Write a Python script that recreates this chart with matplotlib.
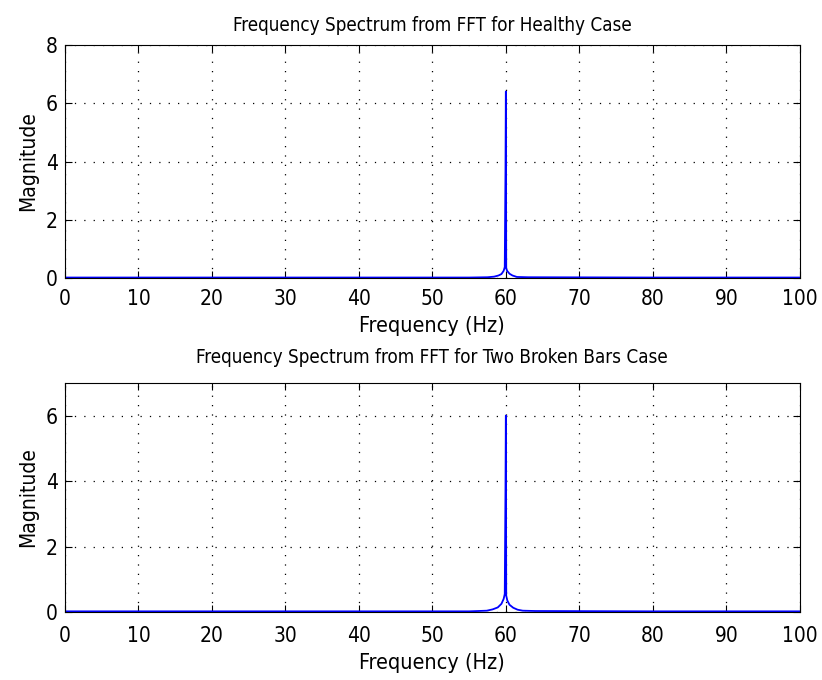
import numpy as np
import matplotlib
matplotlib.use('Agg')
import matplotlib.pyplot as plt

# spectrum samples (Hz) and magnitudes
freq_h = [0, 20, 40, 55, 57.5, 58.4, 59.0, 59.4, 59.7, 59.85, 59.95, 60.0, 60.05,
          60.2, 60.5, 60.9, 61.5, 63, 80, 100]
mag_h = [0.02, 0.02, 0.02, 0.02, 0.03, 0.05, 0.09, 0.14, 0.25, 0.38, 3.7, 6.4, 0.33,
         0.24, 0.15, 0.09, 0.04, 0.03, 0.02, 0.02]

freq_b = [0, 20, 40, 55, 57.4, 58.2, 58.9, 59.4, 59.7, 59.85, 59.95, 60.0, 60.05,
          60.2, 60.5, 61.0, 61.6, 62.3, 64, 80, 100]
mag_b = [0.02, 0.02, 0.02, 0.02, 0.04, 0.08, 0.14, 0.25, 0.40, 0.55, 3.8, 6.0, 0.5,
         0.35, 0.22, 0.13, 0.07, 0.04, 0.03, 0.02, 0.02]

xticks = [0, 10, 20, 30, 40, 50, 60, 70, 80, 90, 100]

plt.rcParams['font.family'] = ['DejaVu Sans']
plt.rcParams['font.stretch'] = 'condensed'
plt.rcParams['font.size'] = 15

fig = plt.figure(figsize=(8.22, 6.8), dpi=100)
ax1 = fig.add_axes([0.079, 0.591, 0.894, 0.343])
ax2 = fig.add_axes([0.079, 0.100, 0.894, 0.337])

def setup(ax, x, y, ymax, yticks, title, tpad, xpad):
    ax.plot(x, y, color=(0, 0, 1), lw=1.3)
    ax.set_xlim(0, 100)
    ax.set_ylim(0, ymax)
    ax.set_xticks(xticks)
    ax.set_yticks(yticks)
    ax.grid(True, color='black', linestyle=(0, (1, 6.5)), linewidth=0.9)
    ax.tick_params(direction='in', top=True, right=True, length=5, width=0.8)
    ax.tick_params(axis='x', pad=xpad)
    ax.tick_params(axis='y', pad=5)
    for s in ax.spines.values():
        s.set_linewidth(0.8)
    ax.set_xlabel('Frequency (Hz)', labelpad=5, fontsize=15.5)
    ax.set_ylabel('Magnitude', labelpad=6)
    ax.set_title(title, pad=tpad, fontsize=13.5)

setup(ax1, freq_h, mag_h, 8, [0, 2, 4, 6, 8], 'Frequency Spectrum from FFT for Healthy Case', 10, 8)
setup(ax2, freq_b, mag_b, 7, [0, 2, 4, 6], 'Frequency Spectrum from FFT for Two Broken Bars Case', 14, 10)

fig.savefig('out.png', dpi=100)
